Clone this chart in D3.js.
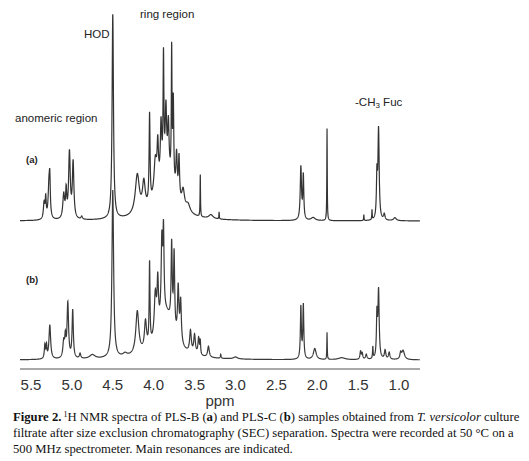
<!DOCTYPE html>
<html><head><meta charset="utf-8">
<script src="https://cdn.jsdelivr.net/npm/d3@7"></script>
<style>body{margin:0;background:#fff}</style></head>
<body><svg id="c" width="529" height="461"></svg>
<script>
// Peak lists: [ppm, height (px above baseline), half-width (ppm)]
const peaksA = [
 [5.34,16,.01],[5.32,20,.007],[5.28,34,.012],[5.27,30,.007],[5.10,24,.013],[5.07,26,.008],
 [5.03,66,.012],[4.985,56,.011],[4.88,3,.01],[4.50,205,.010],[4.20,40,.03],[4.12,28,.02],
 [4.05,90,.007],[3.98,36,.02],[3.95,42,.01],[3.91,55,.01],[3.88,115,.006],[3.85,62,.01],
 [3.82,50,.01],[3.78,130,.005],[3.76,85,.007],[3.72,42,.01],[3.69,42,.008],[3.64,18,.02],
 [3.58,8,.03],[3.43,43,.003],[3.30,4,.03],[3.20,7,.003],[2.20,53,.009],[2.17,44,.007],
 [2.05,3,.03],[1.88,92,.003],[1.43,6,.003],[1.33,10,.003],[1.27,42,.007],[1.25,90,.009],
 [1.18,6,.01],[1.05,3,.02]
];
const peaksB = [
 [5.33,14,.008],[5.31,12,.006],[5.27,34,.012],[5.10,16,.012],[5.08,18,.008],[5.05,55,.011],
 [4.99,48,.009],[4.90,5,.01],[4.75,4,.04],[4.50,168,.012],[4.35,3,.03],[4.20,43,.022],
 [4.10,28,.015],[4.05,82,.006],[3.98,42,.015],[3.95,48,.01],[3.90,76,.01],[3.88,80,.008],
 [3.78,80,.008],[3.75,76,.008],[3.70,52,.01],[3.67,42,.01],[3.55,22,.012],[3.50,19,.012],
 [3.45,17,.01],[3.43,13,.005],[3.33,11,.012],[3.18,4,.005],[3.00,2,.03],[2.20,52,.007],
 [2.17,54,.007],[2.03,11,.02],[1.88,27,.003],[1.70,2,.05],[1.47,8,.008],[1.45,6,.008],
 [1.40,5,.01],[1.32,12,.004],[1.25,68,.009],[1.27,42,.007],[1.17,9,.01],[1.12,7,.01],
 [0.95,9,.02],[0.98,6,.01]
];
const humps = [[3.85,45,.12]]; // broad ring-region envelope (both spectra)
const xTicks = [5.5,5.0,4.5,4.0,3.5,3.0,2.5,2.0,1.5,1.0];

const svg = d3.select('#c');
const x = d3.scaleLinear().domain([5.5,1.0]).range([31,399]);
const xDom = [x.invert(20), x.invert(420)];
const grid = d3.range(xDom[0], xDom[1], -0.0015);
function spec(peaks){
  const all = peaks.concat(humps);
  return grid.map(p => [p, d3.sum(all, ([c,h,w]) => h*w*w/((p-c)*(p-c)+w*w))]);
}
const yA = d3.scaleLinear().domain([0,210]).range([221,11]);
const yB = d3.scaleLinear().domain([0,210]).range([360,150]);
const line = y => d3.line().x(d=>x(d[0])).y(d=>y(d[1]));
svg.append('path').attr('d', line(yB)(spec(peaksB))).attr('fill','none').attr('stroke','#3a3a3a').attr('stroke-width',1.2);
svg.append('path').attr('d', line(yA)(spec(peaksA))).attr('fill','none').attr('stroke','#333').attr('stroke-width',1.2);

// axis
const ax = svg.append('g').attr('transform','translate(0,369)');
ax.append('line').attr('x1',20).attr('x2',420).attr('stroke','#555').attr('stroke-width',1.2);
ax.selectAll('text').data(xTicks).join('text').attr('x',d=>x(d)).attr('y',21)
  .attr('text-anchor','middle').attr('font-family','Liberation Sans, Arial').attr('font-size',15).attr('fill','#333')
  .text(d=>d.toFixed(1));
svg.append('text').attr('x',220).attr('y',406).attr('text-anchor','middle').attr('font-family','Liberation Sans, Arial').attr('font-size',15).attr('fill','#333').text('ppm');

const lab = (t,xx,yy,s,w) => svg.append('text').attr('x',xx).attr('y',yy).attr('font-family','Liberation Sans, Arial')
  .attr('font-size',s).attr('font-weight',w||'normal').attr('fill','#222').text(t);
lab('ring region',140,18,11.5);
lab('HOD',84,38,11.5);
lab('anomeric region',15,122,11.5);
lab('(a)',26,163,9.5,'bold');
lab('(b)',26,283,9.5,'bold');
const ch = svg.append('text').attr('x',355).attr('y',106).attr('font-family','Liberation Sans, Arial').attr('font-size',11.5).attr('fill','#222');
ch.append('tspan').text('-CH');
ch.append('tspan').attr('font-size',8).attr('dy',2).text('3');
ch.append('tspan').attr('dy',-2).text(' Fuc');

// caption
const cap = svg.append('g').attr('font-family','Liberation Serif, Times New Roman').attr('font-size',12.7).attr('fill','#111');
const l1 = cap.append('text').attr('x',13).attr('y',421);
l1.append('tspan').attr('font-weight','bold').text('Figure 2.');
l1.append('tspan').attr('font-size',8).attr('dy',-4).text(' 1');
l1.append('tspan').attr('dy',4).text('H NMR spectra of PLS-B (');
l1.append('tspan').attr('font-weight','bold').text('a');
l1.append('tspan').text(') and PLS-C (');
l1.append('tspan').attr('font-weight','bold').text('b');
l1.append('tspan').text(') samples obtained from ');
l1.append('tspan').attr('font-style','italic').text('T. versicolor');
l1.append('tspan').text(' culture');
cap.append('text').attr('x',13).attr('y',437).text('filtrate after size exclusion chromatography (SEC) separation. Spectra were recorded at 50 °C on a');
cap.append('text').attr('x',13).attr('y',453).text('500 MHz spectrometer. Main resonances are indicated.');
</script></body></html>
